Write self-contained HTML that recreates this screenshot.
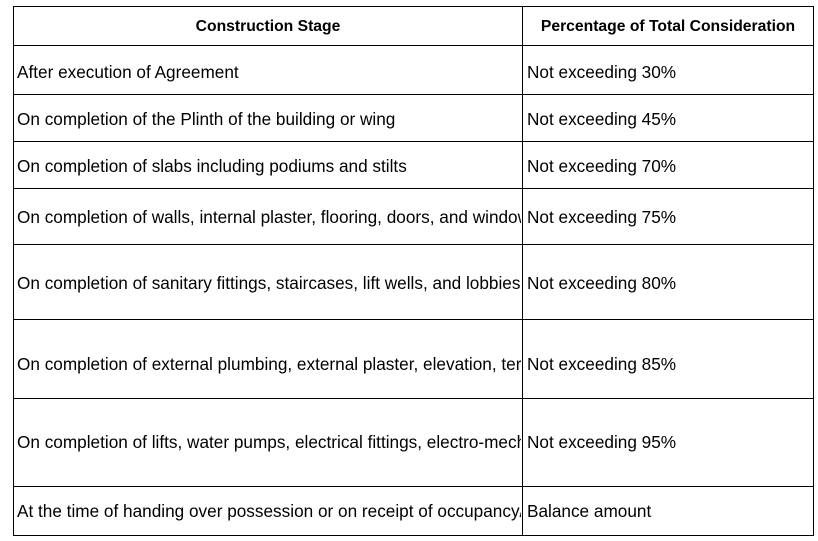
<!DOCTYPE html>
<html><head><style>
body{margin:0;background:#fff;width:818px;height:541px;position:relative;font-family:"Liberation Sans",sans-serif;color:#000;}
.h{position:absolute;left:13px;width:801px;height:0;border-top:1.5px solid #000;}
.v{position:absolute;top:6px;height:529px;width:0;border-left:1.5px solid #000;}
.t{position:absolute;font-size:17.2px;white-space:nowrap;overflow:hidden;line-height:20px;}
.c1{left:17px;width:504px;}
.c2{left:527px;width:285px;}
.b{font-weight:bold;font-size:15.7px;text-align:center;}
</style></head><body>
<div class="h" style="top:6px"></div>
<div class="h" style="top:45px"></div>
<div class="h" style="top:94px"></div>
<div class="h" style="top:141px"></div>
<div class="h" style="top:188px"></div>
<div class="h" style="top:244px"></div>
<div class="h" style="top:319px"></div>
<div class="h" style="top:398px"></div>
<div class="h" style="top:486px"></div>
<div class="h" style="top:535px"></div>
<div class="v" style="left:13px"></div>
<div class="v" style="left:522px"></div>
<div class="v" style="left:813px"></div>
<div class="t b" style="left:14px;width:508px;top:17px">Construction Stage</div>
<div class="t b" style="left:523px;width:290px;top:17px">Percentage of Total Consideration</div>
<div class="t c1" style="top:62px">After execution of Agreement</div>
<div class="t c2" style="top:62px">Not exceeding 30%</div>
<div class="t c1" style="top:109px">On completion of the Plinth of the building or wing</div>
<div class="t c2" style="top:109px">Not exceeding 45%</div>
<div class="t c1" style="top:156px">On completion of slabs including podiums and stilts</div>
<div class="t c2" style="top:156px">Not exceeding 70%</div>
<div class="t c1" style="top:207px">On completion of walls, internal plaster, flooring, doors, and windows</div>
<div class="t c2" style="top:207px">Not exceeding 75%</div>
<div class="t c1" style="top:273px">On completion of sanitary fittings, staircases, lift wells, and lobbies up to the floor</div>
<div class="t c2" style="top:273px">Not exceeding 80%</div>
<div class="t c1" style="top:354px">On completion of external plumbing, external plaster, elevation, terraces</div>
<div class="t c2" style="top:354px">Not exceeding 85%</div>
<div class="t c1" style="top:432px">On completion of lifts, water pumps, electrical fittings, electro-mechanical</div>
<div class="t c2" style="top:432px">Not exceeding 95%</div>
<div class="t c1" style="top:501px">At the time of handing over possession or on receipt of occupancy/completion certificate</div>
<div class="t c2" style="top:501px">Balance amount</div>
</body></html>
